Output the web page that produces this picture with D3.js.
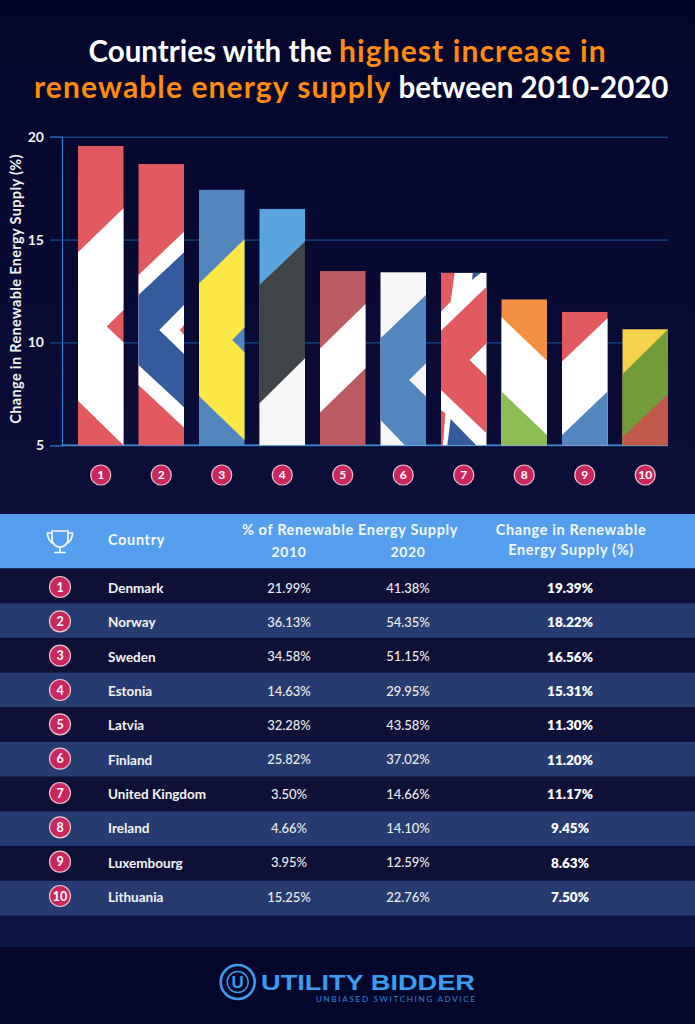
<!DOCTYPE html>
<html>
<head>
<meta charset="utf-8">
<script src="https://cdn.jsdelivr.net/npm/d3@7"></script>
<style>
  html, body { margin: 0; padding: 0; background: #04052b; }
  svg { display: block; }
  text { font-family: "Lato", "Open Sans", sans-serif; }
</style>
</head>
<body>
<svg id="chart" width="695" height="1024"></svg>
<script>
const ranks = [1, 2, 3, 4, 5, 6, 7, 8, 9, 10];
const countries = ["Denmark", "Norway", "Sweden", "Estonia", "Latvia", "Finland", "United Kingdom", "Ireland", "Luxembourg", "Lithuania"];
const share2010 = ["21.99%", "36.13%", "34.58%", "14.63%", "32.28%", "25.82%", "3.50%", "4.66%", "3.95%", "15.25%"];
const share2020 = ["41.38%", "54.35%", "51.15%", "29.95%", "43.58%", "37.02%", "14.66%", "14.10%", "12.59%", "22.76%"];
const changeLabels = ["19.39%", "18.22%", "16.56%", "15.31%", "11.30%", "11.20%", "11.17%", "9.45%", "8.63%", "7.50%"];
// bar heights as drawn in the picture (they differ a little from the table)
const barValues = [19.55, 18.67, 17.42, 16.49, 13.47, 13.41, 13.38, 12.09, 11.48, 10.64];
const yTicks = [5, 10, 15, 20];

const RED = "#e25a60", WHITE = "#ffffff", OFFWHITE = "#f6f6f6", NAVY = "#335c9f", BLUE = "#5286bf";

// flag stripes, one list per bar: u is a fraction of bar width, v is on the value axis
const flagBase = [RED, RED, BLUE, "#5aa5dd", "#bc5a62", OFFWHITE, WHITE, "#f09040", RED, "#f5d24a"];
const flagLayers = [
  [{ c: WHITE, p: [[0, 14.38], [1, 16.52], [1, 11.58], [.63, 10.77], [1, 10.01], [1, 5], [0, 7.17]] }],
  [{ c: WHITE, p: [[0, 13.28], [1, 15.38], [1, 5.87], [0, 7.93]] },
   { c: NAVY, p: [[0, 12.31], [1, 14.38], [1, 6.85], [0, 8.90]] },
   { c: WHITE, p: [[1, 11.82], [.456, 10.61], [1, 9.44]] },
   { c: RED, p: [[1, 10.85], [.91, 10.61], [1, 10.36]] }],
  [{ c: "#fbe845", p: [[0, 12.87], [1, 15.01], [1, 10.73], [.73, 10.12], [1, 9.52], [1, 5.26], [0, 7.40]] }],
  [{ c: "#3f4446", p: [[0, 12.79], [1, 14.90], [1, 5], [0, 5]] },
   { c: OFFWHITE, p: [[0, 7.04], [1, 9.23], [1, 5], [0, 5]] }],
  [{ c: WHITE, p: [[0, 9.71], [1, 11.87], [1, 8.74], [0, 6.60]] }],
  [{ c: BLUE, p: [[0, 10.20], [1, 12.31], [1, 8.99], [.628, 8.18], [1, 7.37], [1, 5], [.533, 5], [0, 6.23]] }],
  [{ c: RED, p: [[0, 13.38], [.30, 13.38], [.212, 11.98], [0, 11.5]] },
   { c: NAVY, p: [[.679, 13.04], [.869, 13.38], [.70, 13.38]] },
   { c: RED, p: [[0, 10.57], [1, 12.71], [1, 9.96], [.628, 9.15], [1, 8.34], [1, 5.58], [0, 7.69]] },
   { c: RED, p: [[0, 6.72], [.095, 6.56], [.044, 5], [0, 5]] },
   { c: NAVY, p: [[.212, 6.28], [.774, 5], [.139, 5]] }],
  [{ c: WHITE, p: [[0, 11.22], [1, 9.11], [1, 5], [0, 5]] },
   { c: "#8cbd55", p: [[0, 7.61], [1, 5.50], [1, 5], [0, 5]] }],
  [{ c: WHITE, p: [[0, 9.07], [1, 11.17], [1, 5], [0, 5]] },
   { c: BLUE, p: [[0, 5.50], [1, 7.61], [1, 5], [0, 5]] }],
  [{ c: "#759c3a", p: [[0, 8.47], [1, 10.64], [1, 5], [0, 5]] },
   { c: "#c0584c", p: [[0, 5.39], [1, 7.49], [1, 5], [0, 5]] }]
];

const svg = d3.select("#chart");

// background
const defs = svg.append("defs");
const bg = defs.append("linearGradient").attr("id", "bg").attr("x1", 0).attr("x2", 0).attr("y1", 0).attr("y2", 1);
bg.append("stop").attr("offset", "0%").attr("stop-color", "#04052b");
bg.append("stop").attr("offset", "100%").attr("stop-color", "#0c0e3a");
svg.append("rect").attr("width", 695).attr("height", 515).attr("fill", "url(#bg)");

// Title
const ORANGE = "#ff8b0f";
const title = svg.append("g")
  .style("font-size", "29.5px")
  .style("font-weight", 700);
const line1 = title.append("text").attr("x", 88.5).attr("y", 62).attr("fill", "#fff");
line1.append("tspan").text("Countries with the ");
line1.append("tspan").attr("fill", ORANGE).style("font-size", "30px").style("letter-spacing", "1.1px").text("highest increase in");
const line2 = title.append("text").attr("x", 34).attr("y", 98).attr("fill", "#fff");
line2.append("tspan").attr("fill", ORANGE).style("font-size", "30px").style("letter-spacing", "1.1px").text("renewable energy supply");
line2.append("tspan").text(" between 2010-2020");

// Scales
const x = d3.scaleBand().domain(ranks).range([78, 668]).paddingInner(0.248).paddingOuter(0);
const y = d3.scaleLinear().domain([5, 20]).range([445.3, 136.7]);

// Axis and grid lines
const yAxis = svg.append("g")
  .attr("transform", "translate(62,0)")
  .call(d3.axisLeft(y).tickValues(yTicks).tickSize(12).tickPadding(6));
yAxis.select(".domain").attr("stroke", "#2f7fca").attr("stroke-width", 1.2);
yAxis.selectAll(".tick line").attr("stroke", "#1c5aa0").attr("x2", 606).attr("x1", -12);
yAxis.selectAll(".tick text")
  .attr("fill", "#f2f2f2")
  .style("font-size", "14px")
  .style("font-weight", 700);
svg.append("line")
  .attr("x1", 62).attr("x2", 668)
  .attr("y1", y(5)).attr("y2", y(5))
  .attr("stroke", "#3d8fd8").attr("stroke-width", 1.4);

svg.append("text")
  .attr("transform", `translate(21,${y(12.6)}) rotate(-90)`)
  .attr("text-anchor", "middle")
  .attr("fill", "#f2f2f2")
  .style("font-size", "14.5px")
  .style("letter-spacing", "0.35px")
  .style("font-weight", 700)
  .text("Change in Renewable Energy Supply (%)");

// Flag bars
const bars = svg.selectAll(".bar")
  .data(ranks)
  .enter()
  .append("g")
  .attr("class", "bar");

bars.append("rect")
  .attr("x", d => x(d))
  .attr("y", (d, i) => y(barValues[i]))
  .attr("width", x.bandwidth())
  .attr("height", (d, i) => y(5) - y(barValues[i]))
  .attr("fill", (d, i) => flagBase[i]);

bars.each(function (d, i) {
  d3.select(this).selectAll("polygon")
    .data(flagLayers[i])
    .enter()
    .append("polygon")
    .attr("fill", l => l.c)
    .attr("points", l => l.p.map(q => [x(d) + q[0] * x.bandwidth(), y(q[1])].join(",")).join(" "));
});

function rankBadge(g, r, fontSize) {
  g.append("circle")
    .attr("r", r)
    .attr("fill", "#c9275e")
    .attr("stroke", "#e9c3cf")
    .attr("stroke-width", 1.2);
  g.append("text")
    .attr("text-anchor", "middle")
    .attr("dy", "0.36em")
    .attr("fill", "#fff")
    .style("font-size", fontSize + "px")
    .style("font-weight", 700)
    .text(d => d);
}

// Badges under the bars
svg.selectAll(".xBadge")
  .data(ranks)
  .enter()
  .append("g")
  .attr("class", "xBadge")
  .attr("transform", d => `translate(${x(d) + x.bandwidth() / 2},475)`)
  .call(rankBadge, 10, 12);

// Table
const rowY = d3.scaleBand().domain(ranks).range([568.5, 915.5]);
const textY = d3.scalePoint().domain(ranks).range([588, 897]);

svg.append("rect").attr("y", 515).attr("width", 695).attr("height", 432).attr("fill", "#0b1640");
svg.append("rect").attr("y", 514).attr("width", 695).attr("height", 54.5).attr("fill", "#559fee");

const header = svg.append("g")
  .attr("fill", "#f4f8ff")
  .style("font-weight", 700)
  .style("font-size", "14.5px")
  .style("letter-spacing", "0.65px");
header.append("text").attr("x", 108).attr("y", 545).text("Country");
header.append("text").attr("x", 350).attr("y", 535).attr("text-anchor", "middle").text("% of Renewable Energy Supply");
header.append("text").attr("x", 289).attr("y", 557).attr("text-anchor", "middle").style("font-size", "14px").text("2010");
header.append("text").attr("x", 408).attr("y", 557).attr("text-anchor", "middle").style("font-size", "14px").text("2020");
header.append("text").attr("x", 571).attr("y", 535).attr("text-anchor", "middle").text("Change in Renewable");
header.append("text").attr("x", 571).attr("y", 555).attr("text-anchor", "middle").text("Energy Supply (%)");

// Trophy icon
svg.append("path")
  .attr("transform", "translate(60,541)")
  .attr("fill", "none")
  .attr("stroke", "#f4f8ff")
  .attr("stroke-width", 1.7)
  .attr("d", "M-8,-10 H8 V-2 C8,4 3,6 0,6 C-3,6 -8,4 -8,-2 Z M-8,-8 H-12.5 C-12.5,-2 -10,1 -6,3 M8,-8 H12.5 C12.5,-2 10,1 6,3 M0,6 V11 M-6,11.5 H6");

svg.selectAll(".stripe")
  .data(ranks)
  .enter()
  .append("rect")
  .attr("class", "stripe")
  .attr("y", d => rowY(d))
  .attr("width", 695)
  .attr("height", rowY.bandwidth())
  .attr("fill", (d, i) => i % 2 ? "#263c70" : "#0e1038");

const rows = svg.selectAll(".row")
  .data(ranks)
  .enter()
  .append("g")
  .attr("class", "row")
  .attr("transform", d => `translate(0,${textY(d)})`);

rows.append("g")
  .attr("transform", "translate(60,-1)")
  .call(rankBadge, 10.5, 12.5);

rows.append("text")
  .attr("x", 108).attr("dy", "0.36em")
  .attr("fill", "#f4f4f4")
  .style("font-size", "13.5px").style("font-weight", 700)
  .text((d, i) => countries[i]);

rows.append("text")
  .attr("x", 289).attr("dy", "0.36em")
  .attr("text-anchor", "middle").attr("fill", "#ececec")
  .style("font-size", "13px").style("font-weight", 500)
  .text((d, i) => share2010[i]);

rows.append("text")
  .attr("x", 408).attr("dy", "0.36em")
  .attr("text-anchor", "middle").attr("fill", "#ececec")
  .style("font-size", "13px").style("font-weight", 500)
  .text((d, i) => share2020[i]);

rows.append("text")
  .attr("x", 570).attr("dy", "0.36em")
  .attr("text-anchor", "middle").attr("fill", "#fff")
  .style("font-size", "13.5px").style("font-weight", 800)
  .text((d, i) => changeLabels[i]);

// Footer logo
const logo = svg.append("g");
logo.append("rect").attr("y", 947).attr("width", 695).attr("height", 77).attr("fill", "#05062c");
logo.append("circle").attr("cx", 237.7).attr("cy", 982).attr("r", 17)
  .attr("fill", "none").attr("stroke", "#3b9bef").attr("stroke-width", 2.6);
logo.append("circle").attr("cx", 237.7).attr("cy", 982).attr("r", 10.5)
  .attr("fill", "none").attr("stroke", "#3b9bef").attr("stroke-width", 1.4);
logo.append("text").attr("x", 237.7).attr("y", 988)
  .attr("text-anchor", "middle").attr("fill", "#3b9bef")
  .style("font-family", "'Liberation Sans'").style("font-weight", 700).style("font-size", "17px")
  .text("U");
logo.append("text").attr("x", 261).attr("y", 989.5)
  .attr("fill", "#3b9bef")
  .attr("textLength", 214).attr("lengthAdjust", "spacingAndGlyphs")
  .style("font-family", "'Liberation Sans'").style("font-weight", 700).style("font-size", "22px")
  .text("UTILITY BIDDER");
logo.append("text").attr("x", 316).attr("y", 1002)
  .attr("fill", "#2f7fca")
  .attr("textLength", 159).attr("lengthAdjust", "spacing")
  .style("font-size", "8px").style("font-weight", 500)
  .text("UNBIASED SWITCHING ADVICE");
</script>
</body>
</html>
